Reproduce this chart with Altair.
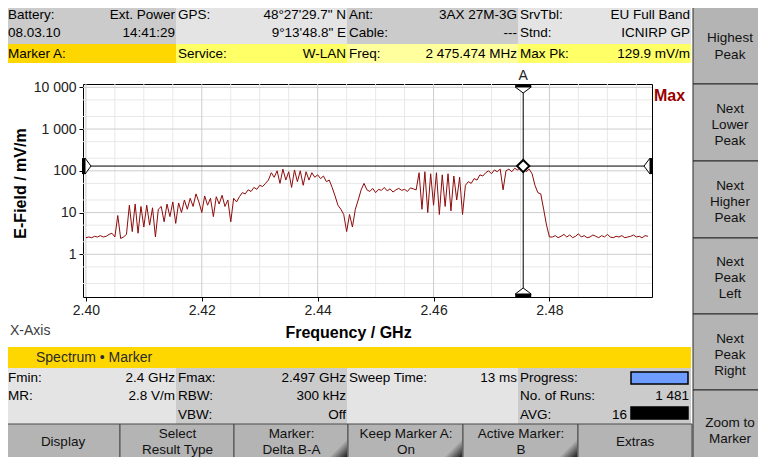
import altair as alt
import pandas as pd

sweep_start_ghz = 2.400
sweep_step_ghz = 0.0005
field_mv_m = [
    2.5, 2.6, 2.5, 2.7, 2.6, 2.8, 2.6, 2.7, 3.0,
    3.2, 2.6, 8.5, 2.4, 2.6, 3.0,
    15, 3.5, 16, 3.2, 14, 4.5, 15, 5, 13, 2.6, 12,
    14, 6, 16, 8, 18, 5.5, 17, 10, 20, 12, 22, 14, 28, 18,
    10,
    25, 15, 22, 8, 24, 16, 26, 14, 20, 6, 22, 18, 24,
    30, 28, 35, 32, 40, 36, 45, 42, 50,
    60, 90, 70, 100, 50, 110, 60, 95, 40, 105, 55, 100, 45, 95, 60, 90, 70, 80,
    65, 75, 55, 60,
    40, 25, 15, 12, 9, 3.5,
    9, 4.5, 12,
    20, 35, 50,
    35, 32, 38, 30, 36, 34, 40, 33, 37, 31, 35, 38, 34, 36, 32, 39, 37, 35,
    90, 12, 95, 10, 85, 15, 90, 9, 80, 14, 85, 11, 75, 20, 70, 9,
    45, 55, 50, 65, 60, 80, 75,
    90, 100, 85, 105, 95, 110, 35, 100, 110, 95, 115, 105, 120,
    129.9,
    95, 110, 85,
    45, 30, 28,
    12, 5, 2.6,
    2.6, 2.8, 2.5, 2.7, 3.0, 2.6, 2.9, 2.5, 2.7, 3.1, 2.6, 2.8, 2.5, 2.6, 2.9, 2.7, 2.5,
    2.8, 2.6, 3.0, 2.6, 2.5, 2.7, 2.6, 2.8, 2.5, 2.6, 2.7, 2.9, 2.6, 2.7, 2.5, 2.8, 2.7,
]
marker_freq_ghz = [2.475474]
marker_level_mv_m = [129.9]

x_major_ticks = [2.40, 2.42, 2.44, 2.46, 2.48]
x_minor_ticks = [2.405, 2.41, 2.415, 2.425, 2.43, 2.435, 2.445, 2.45, 2.455,
                 2.465, 2.47, 2.475, 2.485, 2.49, 2.495]
y_major_ticks = [1, 10, 100, 1000, 10000]
y_minor_ticks = [0.2, 0.5, 2, 5, 20, 50, 200, 500, 2000, 5000]

header_left = ["Battery:", "08.03.10", "Marker A:", "GPS:", "Service:", "Ant:", "Cable:", "Freq:",
               "SrvTbl:", "Stnd:", "Max Pk:"]
header_right = ["Ext. Power", "14:41:29", "48°27'29.7\" N", "9°13'48.8\" E", "W-LAN", "3AX 27M-3G",
                "---", "2 475.474 MHz", "EU Full Band", "ICNIRP GP", "129.9 mV/m"]
info_left = ["Fmin:", "MR:", "Fmax:", "RBW:", "VBW:", "Sweep Time:", "Progress:", "No. of Runs:", "AVG:"]
info_right = ["2.4 GHz", "2.8 V/m", "2.497 GHz", "300 kHz", "Off", "13 ms", "1 481", "16"]
bottom_buttons = ["Display", "Select", "Result Type", "Marker:", "Delta B-A", "Keep Marker A:", "On",
                  "Active Marker:", "B", "Extras"]
side_buttons = ["Highest", "Peak", "Next", "Lower", "Peak", "Next", "Higher", "Peak", "Next", "Peak",
                "Left", "Next", "Peak", "Right", "Zoom to", "Marker"]

# ---------------- layout (page pixels) ----------------
OX, OY = 83, 84          # plot origin on the page
W, H = 569, 213          # plot area
PAGE_R, PAGE_B = 758, 457  # last drawable page pixel (right / bottom)
FONT = "Liberation Sans"

trace = pd.DataFrame({
    "freq": [round(sweep_start_ghz + sweep_step_ghz * i, 4) for i in range(len(field_mv_m))],
    "field": field_mv_m,
})
marker = pd.DataFrame({"freq": marker_freq_ghz, "level": marker_level_mv_m})

XS = alt.Scale(domain=[2.3995, 2.4977], nice=False, zero=False)
YS = alt.Scale(type="log", domain=[0.095, 12000], nice=False)

GRAY_D, GRAY_L, BTN = "#cbcbcb", "#e4e4e4", "#b4b4b4"
rect_rows = [
    (6, 2, 176, 44, GRAY_D, "transparent", 0), (176, 2, 347, 44, GRAY_L, "transparent", 0),
    (347, 2, 518, 44, GRAY_D, "transparent", 0), (518, 2, 691, 44, GRAY_L, "transparent", 0),
    (6, 44, 176, 63, "#ffd700", "transparent", 0), (176, 44, 347, 63, "#ffff66", "transparent", 0),
    (347, 44, 518, 63, "#ffff9e", "transparent", 0), (518, 44, 691, 63, "#ffff66", "transparent", 0),
    (6, 347, 691, 368, "#ffd700", "transparent", 0),
    (6, 368, 176, 424, GRAY_L, "transparent", 0), (176, 368, 347, 424, GRAY_D, "transparent", 0),
    (347, 368, 518, 424, GRAY_L, "transparent", 0), (518, 368, 691, 424, GRAY_D, "transparent", 0),
    (631, 372, 688, 384, "#6f9dff", "black", 1.5), (631, 407, 688, 419, "black", "black", 1.5),
]
for bx1, bx2 in [(6, 120), (120, 234), (234, 348), (348, 463), (463, 578), (578, 692)]:
    rect_rows.append((bx1, 424, bx2, 470, BTN, "#4a4a4a", 1))
for by1, by2 in [(2, 84), (84, 161), (161, 238), (238, 314), (314, 390), (390, 470)]:
    rect_rows.append((693, by1, 770, by2, BTN, "#2a2a2a", 1))
rects = pd.DataFrame(rect_rows, columns=["x1", "y1", "x2", "y2", "fill", "stroke", "sw"])
for c in ["x1", "x2"]:
    rects[c] = rects[c] - OX
for c in ["y1", "y2"]:
    rects[c] = rects[c] - OY

corners = pd.DataFrame({"x": [347 - 9 - OX, 462 - 9 - OX, 577 - 9 - OX], "y": [PAGE_B - 9 - OY] * 3})

hl_pos = [(8, 15), (8, 33), (8, 54), (178, 15), (178, 54), (349, 15), (349, 33), (349, 54),
          (520, 15), (520, 33), (520, 54)]
hr_pos = [(175, 15), (175, 33), (346, 15), (346, 33), (346, 54), (517, 15), (517, 33), (517, 54),
          (690, 15), (690, 33), (690, 54)]
il_pos = [(8, 378), (8, 396), (178, 378), (178, 396), (178, 415), (349, 378), (520, 378),
          (520, 396), (520, 415)]
ir_pos = [(175, 378), (175, 396), (346, 378), (346, 396), (346, 415), (517, 378), (689, 396), (627, 415)]
bb_pos = [(63, 442), (177.5, 434), (177.5, 449.5), (291.5, 434), (291.5, 449.5), (406, 434), (406, 449.5),
          (521, 434), (521, 449.5), (635, 442)]
sb_y = [38, 55, 109, 125, 141, 186, 202, 218, 262, 278, 294, 339, 355, 371, 423, 439]
sb_pos = [(730, y) for y in sb_y]


def text_df(labels, pos):
    return pd.DataFrame({"label": labels,
                         "x": [p[0] - OX for p in pos],
                         "y": [p[1] - OY for p in pos]})


left_txt = pd.concat([text_df(header_left, hl_pos), text_df(info_left, il_pos)])
right_txt = pd.concat([text_df(header_right, hr_pos), text_df(info_right, ir_pos)])
center_txt = pd.concat([text_df(bottom_buttons, bb_pos), text_df(side_buttons, sb_pos)])


def PX(f):
    return alt.X(f"{f}:Q", scale=None, axis=None)


def PY(f):
    return alt.Y(f"{f}:Q", scale=None, axis=None)


def DX(f="freq"):
    return alt.X(f"{f}:Q", scale=XS, axis=None)


def DY(f="level"):
    return alt.Y(f"{f}:Q", scale=YS, axis=None)


# ---------------- layers ----------------
ui_rects = alt.Chart(rects).mark_rect().encode(
    x=PX("x1"), x2=alt.X2("x2:Q"), y=PY("y1"), y2=alt.Y2("y2:Q"),
    fill=alt.Fill("fill:N", scale=None, legend=None),
    stroke=alt.Stroke("stroke:N", scale=None, legend=None),
    strokeWidth=alt.StrokeWidth("sw:Q", scale=None, legend=None),
)

corner_grad = alt.LinearGradient(
    gradient="linear", x1=0, y1=0, x2=1, y2=1,
    stops=[alt.GradientStop(color=BTN, offset=0.5), alt.GradientStop(color="#1e1e1e", offset=1)],
)
ui_corners = alt.Chart(corners).mark_point(
    shape="M1,1L1,-1L-1,1Z", size=324, filled=True, fill=corner_grad, strokeWidth=0, opacity=1
).encode(x=PX("x"), y=PY("y"))

grid_x_minor = alt.Chart(pd.DataFrame({"v": x_minor_ticks})).mark_rule(color="#e8e8e8").encode(x=DX("v"))
grid_y_minor = alt.Chart(pd.DataFrame({"v": y_minor_ticks})).mark_rule(color="#e8e8e8").encode(y=DY("v"))
grid_x_major = alt.Chart(pd.DataFrame({"v": x_major_ticks})).mark_rule(color="#cdcdcd").encode(x=DX("v"))
grid_y_major = alt.Chart(pd.DataFrame({"v": y_major_ticks})).mark_rule(color="#cdcdcd").encode(y=DY("v"))

trace_line = alt.Chart(trace).mark_line(color="#8e0b0b", strokeWidth=1).encode(
    x=alt.X("freq:Q", scale=XS,
            axis=alt.Axis(values=x_major_ticks, format=".2f", title="Frequency / GHz", grid=False,
                          domain=False, tickColor="black", tickSize=4, labelPadding=2, labelFlush=False,
                          labelFontSize=14, labelColor="#222", labelFont=FONT,
                          titleFont=FONT, titleFontSize=16, titleFontWeight="bold", titleColor="black",
                          titleX=265, titleY=35, titleBaseline="middle", titleAlign="center")),
    y=alt.Y("field:Q", scale=YS,
            axis=alt.Axis(values=y_major_ticks, title="E-Field / mV/m", grid=False, domain=False,
                          labelExpr="replace(format(datum.value, ','), ',', ' ')",
                          tickColor="black", tickSize=4, labelPadding=3,
                          labelFontSize=14, labelColor="#222", labelFont=FONT,
                          titleFont=FONT, titleFontSize=16, titleFontWeight="bold", titleColor="black",
                          titleX=-63, titleY=99, titleAngle=270, titleBaseline="middle",
                          titleAlign="center")),
)

m_vrule = alt.Chart(marker).mark_rule(color="black", strokeWidth=1).encode(x=DX())
m_hrule = alt.Chart(marker).mark_rule(color="black", strokeWidth=1).encode(y=DY())

BAR_H = "M-1,-0.1875L1,-0.1875L1,0.1875L-1,0.1875Z"
BAR_V = "M-0.1875,-1L0.1875,-1L0.1875,1L-0.1875,1Z"
TRI_D = "M-1,-0.375L1,-0.375L0,0.375Z"
TRI_U = "M-1,0.375L1,0.375L0,-0.375Z"
TRI_R = "M-0.375,-1L0.375,0L-0.375,1Z"
TRI_L = "M0.375,-1L-0.375,0L0.375,1Z"


def bar(shape, **enc):
    return alt.Chart(marker).mark_point(shape=shape, size=256, filled=True, fill="black",
                                        strokeWidth=0, opacity=1).encode(**enc)


def tri(shape, **enc):
    return alt.Chart(marker).mark_point(shape=shape, size=256, filled=True, fill="white",
                                        stroke="black", strokeWidth=1, opacity=1).encode(**enc)


m_top_bar = bar(BAR_H, x=DX(), y=alt.value(1.5))
m_top_tri = tri(TRI_D, x=DX(), y=alt.value(6))
m_bot_bar = bar(BAR_H, x=DX(), y=alt.value(H - 1.5))
m_bot_tri = tri(TRI_U, x=DX(), y=alt.value(H - 6))
m_lft_bar = bar(BAR_V, x=alt.value(0.5), y=DY())
m_lft_tri = tri(TRI_R, x=alt.value(5), y=DY())
m_rgt_bar = bar(BAR_V, x=alt.value(W - 0.5), y=DY())
m_rgt_tri = tri(TRI_L, x=alt.value(W - 5), y=DY())

m_diamond = alt.Chart(marker).mark_point(shape="diamond", size=150, filled=True, fill="white",
                                         stroke="black", strokeWidth=2, opacity=1).encode(x=DX(), y=DY())

m_label = alt.Chart(marker).mark_text(text="A", font=FONT, fontSize=14, color="#222",
                                      baseline="middle").encode(x=DX(), y=alt.value(-8))
max_label = alt.Chart(marker).mark_text(text="Max", font=FONT, fontSize=16, fontWeight="bold",
                                        color="#990000", align="left", baseline="middle").encode(
    x=alt.value(571), y=alt.value(12))
xaxis_label = alt.Chart(marker).mark_text(text="X-Axis", font=FONT, fontSize=14, color="#3c3c3c",
                                          align="left", baseline="middle").encode(
    x=alt.value(10 - OX), y=alt.value(331 - OY))
band_label = alt.Chart(marker).mark_text(text="Spectrum • Marker", font=FONT, fontSize=14, color="#2a2a2a",
                                         align="left", baseline="middle").encode(
    x=alt.value(36 - OX), y=alt.value(357.5 - OY))

t_left = alt.Chart(left_txt).mark_text(align="left", baseline="middle", font=FONT, fontSize=13.5,
                                       color="black").encode(x=PX("x"), y=PY("y"), text="label:N")
t_right = alt.Chart(right_txt).mark_text(align="right", baseline="middle", font=FONT, fontSize=13.5,
                                         color="black").encode(x=PX("x"), y=PY("y"), text="label:N")
t_center = alt.Chart(center_txt).mark_text(align="center", baseline="middle", font=FONT, fontSize=13.5,
                                           color="#111").encode(x=PX("x"), y=PY("y"), text="label:N")

chart = alt.layer(
    ui_rects, ui_corners,
    grid_x_minor, grid_y_minor, grid_x_major, grid_y_major,
    trace_line,
    m_vrule, m_hrule,
    m_top_bar, m_top_tri, m_bot_bar, m_bot_tri, m_lft_bar, m_lft_tri, m_rgt_bar, m_rgt_tri,
    m_diamond, m_label, max_label, xaxis_label, band_label,
    t_left, t_right, t_center,
).resolve_scale(x="independent", y="independent").properties(
    width=W, height=H,
    autosize=alt.AutoSizeParams(type="none"),
    padding={"left": OX - 8, "top": OY - 8, "right": PAGE_R - OX - W, "bottom": PAGE_B - OY - H},
    background="white",
).configure_view(stroke="black", strokeWidth=1, fill="white")

chart.save("out.html", embed_options={"renderer": "svg", "actions": False})
